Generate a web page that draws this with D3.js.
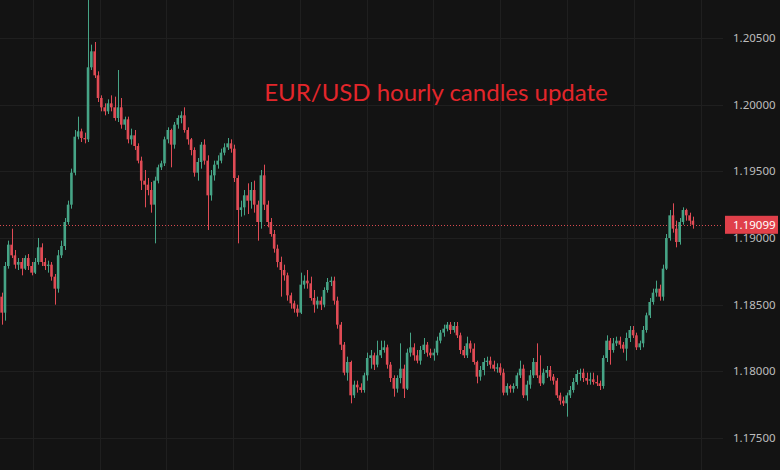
<!DOCTYPE html>
<html>
<head>
<meta charset="utf-8">
<script src="https://cdnjs.cloudflare.com/ajax/libs/d3/7.8.5/d3.min.js"></script>
<style>
  html, body { margin: 0; padding: 0; background: #131313; }
  svg { display: block; }
</style>
</head>
<body>
<svg id="chart" width="780" height="470"></svg>
<script>

    // hourly EUR/USD candles
    var opens = [1.1856,1.1844,1.1879,1.1895,1.1887,1.1880,1.1882,1.1877,1.1885,1.1879,
        1.1874,1.1882,1.1893,1.1882,1.1879,1.1880,1.1871,1.1862,1.1887,1.1894,
        1.1912,1.1925,1.1949,1.1976,1.1980,1.1975,1.1974,1.2028,1.2040,1.2022,
        1.2005,1.1998,1.1995,1.2001,1.1998,1.1990,1.1998,1.1985,1.1989,1.1974,
        1.1977,1.1969,1.1958,1.1943,1.1940,1.1936,1.1925,1.1943,1.1953,1.1956,
        1.1974,1.1981,1.1970,1.1985,1.1990,1.1992,1.1981,1.1974,1.1966,1.1949,
        1.1957,1.1970,1.1958,1.1932,1.1947,1.1955,1.1958,1.1964,1.1968,1.1971,
        1.1967,1.1945,1.1921,1.1923,1.1932,1.1928,1.1936,1.1925,1.1912,1.1947,
        1.1925,1.1912,1.1903,1.1892,1.1882,1.1876,1.1872,1.1857,1.1851,1.1847,
        1.1844,1.1865,1.1868,1.1866,1.1855,1.1850,1.1853,1.1850,1.1861,1.1867,
        1.1868,1.1853,1.1835,1.1820,1.1799,1.1807,1.1782,1.1790,1.1788,1.1786,
        1.1797,1.1810,1.1812,1.1805,1.1812,1.1816,1.1818,1.1805,1.1795,1.1787,
        1.1795,1.1802,1.1787,1.1814,1.1818,1.1812,1.1808,1.1816,1.1820,1.1814,
        1.1812,1.1814,1.1823,1.1829,1.1832,1.1835,1.1831,1.1834,1.1827,1.1816,
        1.1812,1.1821,1.1817,1.1807,1.1796,1.1801,1.1807,1.1808,1.1805,1.1802,
        1.1803,1.1799,1.1784,1.1789,1.1787,1.1789,1.1797,1.1802,1.1782,1.1790,
        1.1797,1.1807,1.1797,1.1791,1.1799,1.1801,1.1796,1.1793,1.1782,1.1778,
        1.1776,1.1782,1.1786,1.1792,1.1798,1.1799,1.1795,1.1793,1.1794,1.1792,
        1.1791,1.1789,1.1810,1.1823,1.1816,1.1821,1.1823,1.1820,1.1817,1.1825,
        1.1831,1.1827,1.1818,1.1821,1.1831,1.1842,1.1852,1.1859,1.1862,1.1856,
        1.1877,1.1900,1.1917,1.1907,1.1897,1.1912,1.1921,1.1917,1.1913];

    var highs = [1.1859,1.1882,1.1898,1.1907,1.1891,1.1885,1.1885,1.1887,1.1888,1.1882,
        1.1885,1.1900,1.1896,1.1885,1.1883,1.1882,1.1873,1.1891,1.1898,1.1915,
        1.1928,1.1952,1.1981,1.1991,1.1982,1.1979,1.2079,1.2045,1.2047,1.2025,
        1.2007,1.2001,1.2004,1.2007,1.2006,1.2026,1.2005,1.1991,1.1991,1.1982,
        1.1981,1.1971,1.1961,1.1951,1.1945,1.1942,1.1946,1.1955,1.1958,1.1976,
        1.1983,1.1982,1.1987,1.1992,1.1995,1.1998,1.1983,1.1975,1.1968,1.1960,
        1.1972,1.1974,1.1962,1.1951,1.1958,1.1962,1.1967,1.1971,1.1975,1.1974,
        1.1970,1.1947,1.1928,1.1936,1.1941,1.1942,1.1943,1.1928,1.1951,1.1955,
        1.1928,1.1915,1.1906,1.1895,1.1886,1.1880,1.1874,1.1859,1.1853,1.1850,
        1.1874,1.1872,1.1876,1.1871,1.1861,1.1856,1.1856,1.1863,1.1870,1.1871,
        1.1871,1.1856,1.1837,1.1822,1.1811,1.1808,1.1793,1.1793,1.1791,1.1799,
        1.1814,1.1816,1.1814,1.1823,1.1823,1.1823,1.1820,1.1807,1.1797,1.1797,
        1.1821,1.1805,1.1817,1.1829,1.1821,1.1816,1.1819,1.1825,1.1822,1.1817,
        1.1817,1.1826,1.1831,1.1835,1.1837,1.1837,1.1837,1.1837,1.1829,1.1819,
        1.1826,1.1823,1.1821,1.1808,1.1804,1.1810,1.1811,1.1811,1.1808,1.1806,
        1.1806,1.1802,1.1791,1.1790,1.1791,1.1799,1.1808,1.1805,1.1793,1.1801,
        1.1810,1.1821,1.1812,1.1802,1.1804,1.1804,1.1798,1.1795,1.1784,1.1781,
        1.1784,1.1789,1.1795,1.1801,1.1802,1.1802,1.1799,1.1799,1.1799,1.1797,
        1.1793,1.1812,1.1827,1.1825,1.1825,1.1826,1.1826,1.1822,1.1829,1.1834,
        1.1834,1.1829,1.1823,1.1834,1.1844,1.1855,1.1862,1.1868,1.1865,1.1880,
        1.1903,1.1921,1.1926,1.1913,1.1915,1.1923,1.1922,1.1919,1.1916];

    var lows = [1.1835,1.1838,1.1877,1.1885,1.1877,1.1876,1.1872,1.1876,1.1876,1.1872,
        1.1873,1.1880,1.1879,1.1876,1.1874,1.1868,1.1850,1.1859,1.1885,1.1891,
        1.1910,1.1922,1.1947,1.1974,1.1972,1.1971,1.1972,1.2026,1.2020,1.2002,
        1.1995,1.1992,1.1993,1.1995,1.1988,1.1987,1.1982,1.1981,1.1971,1.1970,
        1.1966,1.1956,1.1936,1.1923,1.1932,1.1919,1.1896,1.1941,1.1951,1.1954,
        1.1971,1.1953,1.1967,1.1982,1.1986,1.1979,1.1970,1.1962,1.1946,1.1943,
        1.1952,1.1955,1.1906,1.1928,1.1943,1.1952,1.1956,1.1962,1.1966,1.1964,
        1.1942,1.1896,1.1916,1.1917,1.1918,1.1922,1.1919,1.1898,1.1907,1.1921,
        1.1908,1.1901,1.1889,1.1878,1.1856,1.1868,1.1853,1.1847,1.1844,1.1841,
        1.1843,1.1862,1.1862,1.1853,1.1844,1.1847,1.1846,1.1848,1.1859,1.1864,
        1.1850,1.1832,1.1816,1.1797,1.1793,1.1776,1.1780,1.1784,1.1784,1.1784,
        1.1793,1.1802,1.1801,1.1803,1.1810,1.1814,1.1802,1.1792,1.1781,1.1784,
        1.1791,1.1780,1.1786,1.1811,1.1808,1.1806,1.1805,1.1813,1.1811,1.1810,
        1.1808,1.1812,1.1821,1.1826,1.1830,1.1828,1.1829,1.1825,1.1813,1.1810,
        1.1810,1.1814,1.1805,1.1791,1.1793,1.1797,1.1804,1.1802,1.1800,1.1799,
        1.1797,1.1782,1.1782,1.1784,1.1784,1.1787,1.1795,1.1780,1.1778,1.1787,
        1.1795,1.1795,1.1789,1.1790,1.1795,1.1793,1.1790,1.1780,1.1775,1.1774,
        1.1766,1.1780,1.1784,1.1790,1.1793,1.1792,1.1790,1.1790,1.1790,1.1789,
        1.1786,1.1787,1.1807,1.1805,1.1814,1.1819,1.1817,1.1814,1.1808,1.1822,
        1.1825,1.1816,1.1816,1.1818,1.1829,1.1840,1.1850,1.1856,1.1853,1.1853,
        1.1876,1.1898,1.1904,1.1893,1.1895,1.1910,1.1913,1.1910,1.1907];

    var closes = [1.1844,1.1879,1.1895,1.1887,1.1880,1.1882,1.1877,1.1885,1.1879,1.1874,
        1.1882,1.1893,1.1882,1.1879,1.1880,1.1871,1.1862,1.1887,1.1894,1.1912,
        1.1925,1.1949,1.1976,1.1980,1.1975,1.1974,1.2028,1.2040,1.2022,1.2005,
        1.1998,1.1995,1.2001,1.1998,1.1990,1.1998,1.1985,1.1989,1.1974,1.1977,
        1.1969,1.1958,1.1943,1.1940,1.1936,1.1925,1.1943,1.1953,1.1956,1.1974,
        1.1981,1.1970,1.1985,1.1990,1.1992,1.1981,1.1974,1.1966,1.1949,1.1957,
        1.1970,1.1958,1.1932,1.1947,1.1955,1.1958,1.1964,1.1968,1.1971,1.1967,
        1.1945,1.1921,1.1923,1.1932,1.1928,1.1936,1.1925,1.1912,1.1947,1.1925,
        1.1912,1.1903,1.1892,1.1882,1.1876,1.1872,1.1857,1.1851,1.1847,1.1844,
        1.1865,1.1868,1.1866,1.1855,1.1850,1.1853,1.1850,1.1861,1.1867,1.1868,
        1.1853,1.1835,1.1820,1.1799,1.1807,1.1782,1.1790,1.1788,1.1786,1.1797,
        1.1810,1.1812,1.1805,1.1812,1.1816,1.1818,1.1805,1.1795,1.1787,1.1795,
        1.1802,1.1787,1.1814,1.1818,1.1812,1.1808,1.1816,1.1820,1.1814,1.1812,
        1.1814,1.1823,1.1829,1.1832,1.1835,1.1831,1.1834,1.1827,1.1816,1.1812,
        1.1821,1.1817,1.1807,1.1796,1.1801,1.1807,1.1808,1.1805,1.1802,1.1803,
        1.1799,1.1784,1.1789,1.1787,1.1789,1.1797,1.1802,1.1782,1.1790,1.1797,
        1.1807,1.1797,1.1791,1.1799,1.1801,1.1796,1.1793,1.1782,1.1778,1.1776,
        1.1782,1.1786,1.1792,1.1798,1.1799,1.1795,1.1793,1.1794,1.1792,1.1791,
        1.1789,1.1810,1.1823,1.1816,1.1821,1.1823,1.1820,1.1817,1.1825,1.1831,
        1.1827,1.1818,1.1821,1.1831,1.1842,1.1852,1.1859,1.1862,1.1856,1.1877,
        1.1900,1.1917,1.1907,1.1897,1.1912,1.1921,1.1917,1.1913,1.19099];

    // price axis ticks and time grid positions (in candle index)
    var priceTicks = [1.175, 1.180, 1.185, 1.190, 1.195, 1.200, 1.205];
    var timeGrid = [9.4, 29.5, 49.6, 69.7, 89.8, 109.9, 129.9, 150, 170.1, 190.2, 210.3];
    var lastPrice = 1.19099;
    var title = 'EUR/USD hourly candles update';

    var width = 780, height = 470;
    var plotRight = 723;
    var upColor = '#46a486', downColor = '#e04b55';

    var svg = d3.select('#chart');

    var data = closes.map(function(c, i) {
        return {i: i, o: opens[i], h: highs[i], l: lows[i], c: c};
    });

    // Define our scales
    var xScale = d3.scaleBand()
                   .domain(data.map(function(d) { return d.i; }))
                   .range([0.34, 694.22])
                   .paddingInner(0.22);

    var xIdx = d3.scaleLinear()
                 .domain([0, data.length - 1])
                 .range([xScale(0) + xScale.bandwidth() / 2,
                         xScale(data.length - 1) + xScale.bandwidth() / 2]);

    var yScale = d3.scaleLinear()
                   .domain([1.175, 1.205])
                   .range([438, 38]);

    // background
    svg.append('rect')
       .attr('width', width)
       .attr('height', height)
       .attr('fill', '#131313');

    // grid lines
    svg.append('g')
       .selectAll('line')
       .data(priceTicks)
       .enter().append('line')
       .attr('x1', 0)
       .attr('x2', plotRight)
       .attr('y1', function(d) { return Math.round(yScale(d)) + 0.5; })
       .attr('y2', function(d) { return Math.round(yScale(d)) + 0.5; })
       .attr('stroke', '#1f1f1f');

    svg.append('g')
       .selectAll('line')
       .data(timeGrid)
       .enter().append('line')
       .attr('x1', function(d) { return Math.round(xIdx(d)) + 0.5; })
       .attr('x2', function(d) { return Math.round(xIdx(d)) + 0.5; })
       .attr('y1', 0)
       .attr('y2', height)
       .attr('stroke', '#1f1f1f');

    // title
    svg.append('text')
       .attr('x', 436)
       .attr('y', 101)
       .attr('text-anchor', 'middle')
       .attr('font-family', 'Lato, "Open Sans", sans-serif')
       .attr('font-size', '24px')
       .attr('fill', '#e3262b')
       .text(title);

    // last price dotted line
    svg.append('line')
       .attr('x1', 0)
       .attr('x2', plotRight)
       .attr('y1', Math.round(yScale(lastPrice)) + 0.5)
       .attr('y2', Math.round(yScale(lastPrice)) + 0.5)
       .attr('stroke', '#d84a50')
       .attr('stroke-dasharray', '1,2');

    // candles
    var candle = svg.append('g')
                    .selectAll('g')
                    .data(data)
                    .enter().append('g')
                    .attr('fill', function(d) { return d.c >= d.o ? upColor : downColor; })
                    .attr('stroke', function(d) { return d.c >= d.o ? upColor : downColor; });

    candle.append('line')
          .attr('x1', function(d) { return Math.round(xScale(d.i) + xScale.bandwidth() / 2) + 0.5; })
          .attr('x2', function(d) { return Math.round(xScale(d.i) + xScale.bandwidth() / 2) + 0.5; })
          .attr('y1', function(d) { return yScale(d.h); })
          .attr('y2', function(d) { return yScale(d.l); })
          .attr('stroke-width', 1);

    candle.append('rect')
          .attr('stroke', 'none')
          .attr('x', function(d) { return xScale(d.i); })
          .attr('width', xScale.bandwidth())
          .attr('y', function(d) { return yScale(Math.max(d.o, d.c)); })
          .attr('height', function(d) {
              return Math.max(1, Math.abs(yScale(d.o) - yScale(d.c)));
          });

    // price axis labels
    svg.append('g')
       .selectAll('text')
       .data(priceTicks)
       .enter().append('text')
       .attr('x', 733)
       .attr('y', function(d) { return yScale(d); })
       .attr('dy', '0.35em')
       .attr('font-family', '"Noto Sans", sans-serif')
       .attr('font-size', '11.5px')
       .attr('fill', '#bdbdbd')
       .text(function(d) { return d3.format('.5f')(d); });

    // last price tag
    svg.append('rect')
       .attr('x', plotRight + 2)
       .attr('y', yScale(lastPrice) - 9)
       .attr('width', width - plotRight - 4)
       .attr('height', 18)
       .attr('fill', '#e0404a');

    svg.append('text')
       .attr('x', 733)
       .attr('y', yScale(lastPrice))
       .attr('dy', '0.35em')
       .attr('font-family', '"Noto Sans", sans-serif')
       .attr('font-size', '11.5px')
       .attr('fill', '#ffffff')
       .text(d3.format('.5f')(lastPrice));

</script>
</body>
</html>
